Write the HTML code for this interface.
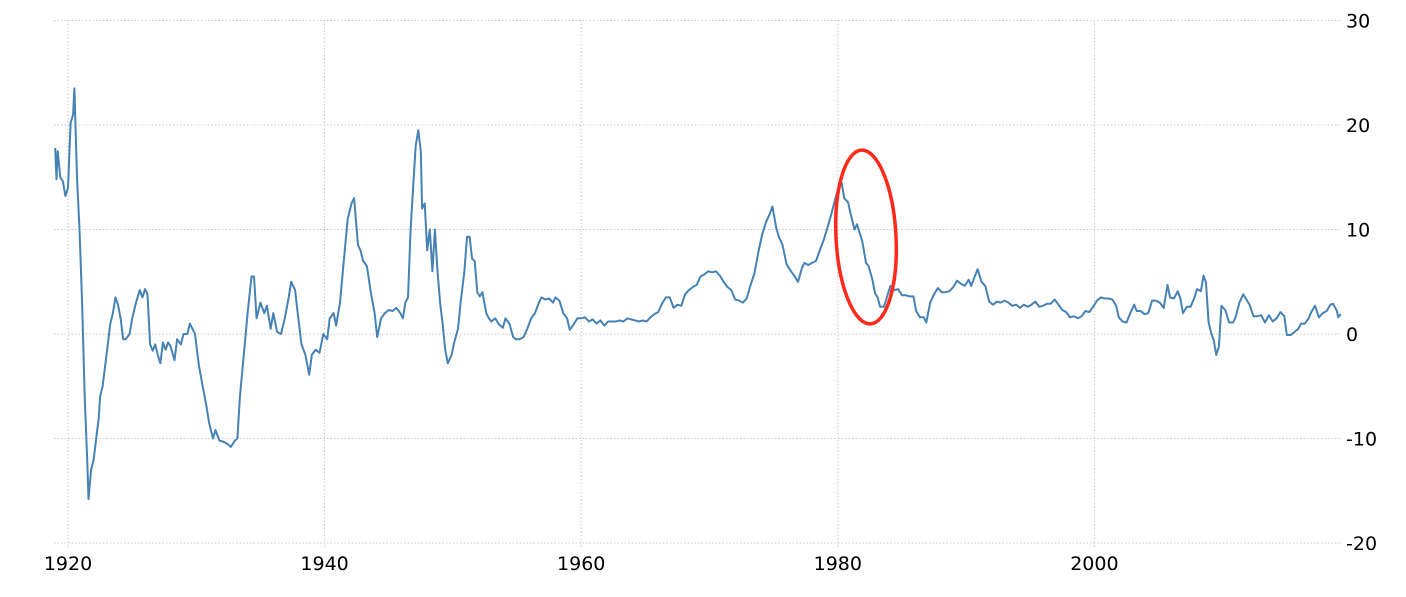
<!DOCTYPE html>
<html><head><meta charset="utf-8"><style>
html,body{margin:0;padding:0;background:#fff;}
svg text{font-family:"DejaVu Sans","Liberation Sans",sans-serif;font-size:19px;fill:#000;}
</style></head><body>
<svg id="chart" width="1406" height="592" xmlns="http://www.w3.org/2000/svg">
<g id="grid"></g>
<g id="axes"></g>
<path id="line" fill="none" stroke="#4682b4" stroke-width="2" stroke-linejoin="round"/>
<ellipse cx="866" cy="237" rx="30" ry="87" fill="none" stroke="#ff2a1a" stroke-width="3.5" transform="rotate(-3 866 237)"/>
</svg>
<script>
const years=[1919.0,1919.1,1919.2,1919.4,1919.6,1919.8,1920.0,1920.2,1920.4,1920.5,1920.7,1920.9,1921.1,1921.3,1921.5,1921.6,1921.8,1922.0,1922.2,1922.4,1922.5,1922.7,1922.9,1923.1,1923.3,1923.5,1923.7,1923.9,1924.1,1924.3,1924.5,1924.8,1925.0,1925.3,1925.6,1925.8,1926.0,1926.2,1926.4,1926.6,1926.8,1927.0,1927.2,1927.4,1927.6,1927.8,1928.0,1928.3,1928.5,1928.8,1929.0,1929.3,1929.5,1929.7,1929.9,1930.2,1930.5,1930.8,1931.0,1931.3,1931.5,1931.8,1932.1,1932.4,1932.7,1933.0,1933.2,1933.4,1933.7,1934.0,1934.3,1934.5,1934.7,1935.0,1935.3,1935.5,1935.8,1936.0,1936.3,1936.6,1936.9,1937.2,1937.4,1937.7,1937.9,1938.2,1938.5,1938.8,1939.0,1939.3,1939.6,1939.9,1940.2,1940.4,1940.7,1940.9,1941.2,1941.5,1941.8,1942.1,1942.3,1942.6,1942.8,1943.0,1943.3,1943.6,1943.9,1944.1,1944.4,1944.7,1945.0,1945.3,1945.6,1945.9,1946.1,1946.3,1946.5,1946.7,1946.9,1947.1,1947.3,1947.5,1947.6,1947.8,1948.0,1948.2,1948.4,1948.6,1948.8,1949.0,1949.2,1949.4,1949.6,1949.9,1950.1,1950.4,1950.6,1950.9,1951.1,1951.3,1951.5,1951.7,1951.9,1952.1,1952.3,1952.6,1952.8,1953.0,1953.3,1953.6,1953.9,1954.1,1954.4,1954.7,1954.9,1955.2,1955.5,1955.8,1956.1,1956.4,1956.7,1956.9,1957.2,1957.5,1957.8,1958.0,1958.3,1958.6,1958.9,1959.1,1959.4,1959.7,1960.0,1960.3,1960.6,1960.9,1961.2,1961.5,1961.8,1962.1,1962.4,1962.7,1963.0,1963.3,1963.6,1963.9,1964.2,1964.5,1964.8,1965.1,1965.4,1965.7,1966.0,1966.3,1966.6,1966.9,1967.2,1967.5,1967.8,1968.1,1968.4,1968.7,1969.0,1969.3,1969.6,1969.9,1970.2,1970.5,1970.8,1971.1,1971.4,1971.7,1972.0,1972.3,1972.6,1972.9,1973.2,1973.5,1973.8,1974.1,1974.4,1974.7,1974.9,1975.2,1975.4,1975.7,1976.0,1976.3,1976.6,1976.9,1977.2,1977.4,1977.7,1978.0,1978.3,1978.6,1978.9,1979.2,1979.5,1979.8,1980.1,1980.3,1980.5,1980.8,1981.0,1981.3,1981.5,1981.7,1981.9,1982.2,1982.4,1982.7,1982.9,1983.1,1983.3,1983.6,1983.9,1984.1,1984.4,1984.7,1985.0,1985.3,1985.6,1985.9,1986.1,1986.4,1986.7,1986.9,1987.2,1987.5,1987.8,1988.1,1988.4,1988.7,1989.0,1989.3,1989.6,1989.9,1990.2,1990.4,1990.7,1990.9,1991.2,1991.5,1991.8,1992.1,1992.4,1992.7,1993.0,1993.3,1993.6,1993.9,1994.2,1994.5,1994.8,1995.1,1995.4,1995.7,1996.0,1996.3,1996.6,1996.9,1997.2,1997.5,1997.8,1998.1,1998.4,1998.7,1999.0,1999.3,1999.6,1999.9,2000.2,2000.5,2000.8,2001.1,2001.4,2001.7,2001.9,2002.2,2002.5,2002.8,2003.1,2003.3,2003.6,2003.9,2004.2,2004.5,2004.8,2005.1,2005.4,2005.7,2005.9,2006.2,2006.5,2006.7,2006.9,2007.2,2007.5,2007.8,2008.0,2008.3,2008.5,2008.7,2008.9,2009.1,2009.3,2009.5,2009.7,2009.9,2010.2,2010.5,2010.8,2011.0,2011.3,2011.6,2011.8,2012.1,2012.4,2012.7,2013.0,2013.3,2013.6,2013.9,2014.2,2014.5,2014.8,2015.0,2015.3,2015.6,2015.9,2016.1,2016.4,2016.7,2016.9,2017.2,2017.5,2017.8,2018.1,2018.4,2018.6,2018.9,2019.0,2019.2];
const values=[17.8,14.8,17.5,15,14.6,13.2,14,20.2,21,23.5,15,10,3,-6,-12,-15.8,-13,-12,-10,-8,-6,-5,-3,-1,1,2,3.5,2.8,1.5,-0.5,-0.5,0,1.5,3,4.2,3.5,4.3,3.8,-1,-1.6,-1,-2,-2.8,-0.8,-1.5,-0.8,-1.2,-2.5,-0.5,-1,0,0,1,0.5,0,-3,-5,-7,-8.5,-10,-9.2,-10.2,-10.3,-10.5,-10.8,-10.2,-10,-6,-2,2,5.5,5.5,1.5,3,2,2.7,0.5,2,0.2,0,1.5,3.5,5,4.2,2,-1,-2,-3.9,-2,-1.5,-1.8,0,-0.5,1.5,2,0.8,3,7,11,12.5,13,8.5,8,7,6.5,4,2,-0.3,1.5,2,2.3,2.2,2.5,2,1.5,3,3.5,10,14,18,19.5,17.5,12,12.5,8,10,6,10,6,3,1,-1.5,-2.8,-2,-0.8,0.5,3,6,9.3,9.3,7.2,7,4,3.6,4,2,1.5,1.2,1.5,0.9,0.6,1.5,1,-0.3,-0.5,-0.5,-0.3,0.5,1.5,2,3,3.5,3.3,3.4,3,3.5,3.2,2,1.5,0.4,0.9,1.5,1.5,1.6,1.2,1.4,1,1.3,0.8,1.2,1.2,1.2,1.3,1.2,1.5,1.4,1.3,1.2,1.3,1.2,1.6,1.9,2.1,2.9,3.5,3.5,2.5,2.8,2.7,3.8,4.2,4.5,4.7,5.5,5.7,6.0,5.9,6,5.6,5.0,4.5,4.2,3.3,3.2,3.0,3.4,4.7,5.8,7.8,9.5,10.7,11.5,12.2,10.2,9.3,8.5,6.7,6.1,5.6,5,6.3,6.8,6.6,6.8,7,8,9,10.2,11.5,12.9,14.2,14.5,13,12.6,11.5,10,10.5,9.7,8.9,6.8,6.5,5.2,3.9,3.5,2.6,2.6,3.8,4.6,4.2,4.3,3.7,3.7,3.6,3.6,2.2,1.6,1.6,1.1,3.0,3.8,4.4,4.0,4.0,4.1,4.5,5.1,4.8,4.6,5.2,4.6,5.6,6.2,5.0,4.6,3.1,2.8,3.1,3.0,3.2,3.0,2.7,2.8,2.5,2.8,2.6,2.8,3.1,2.6,2.7,2.9,2.9,3.3,2.8,2.3,2.1,1.6,1.7,1.5,1.7,2.2,2.1,2.6,3.2,3.5,3.4,3.4,3.3,2.7,1.6,1.2,1.1,2.0,2.8,2.2,2.2,1.9,2.0,3.2,3.2,3.0,2.5,4.7,3.5,3.4,4.1,3.4,2.0,2.6,2.6,3.5,4.3,4.1,5.6,4.9,1.1,0.1,-0.6,-2.0,-1.2,2.7,2.3,1.1,1.1,1.6,3.0,3.8,3.4,2.8,1.7,1.7,1.8,1.1,1.8,1.2,1.5,2.1,1.7,-0.1,-0.1,0.2,0.5,1.0,1.0,1.5,2.1,2.7,1.6,2.0,2.2,2.8,2.9,2.2,1.6,1.9];
const yTicks=[30,20,10,0,-10,-20];
const xTicks=[1920,1940,1960,1980,2000];
const X=y=>68+(y-1920)*12.83;
const Y=v=>334-v*10.45;
const NS='http://www.w3.org/2000/svg';
const grid=document.getElementById('grid'), axes=document.getElementById('axes');
yTicks.forEach(t=>{
  const l=document.createElementNS(NS,'line');
  
  
  l.setAttribute('x1',54);l.setAttribute('x2',1340);l.setAttribute('y1',Y(t));l.setAttribute('y2',Y(t));
  l.setAttribute('stroke','#c8c8c8');l.setAttribute('stroke-dasharray','1.5,2');
  grid.appendChild(l);
  const tx=document.createElementNS(NS,'text');
  
  
  tx.setAttribute('x',1346);tx.setAttribute('y',Y(t)+7);tx.textContent=t;
  axes.appendChild(tx);
});
xTicks.forEach(t=>{
  const l=document.createElementNS(NS,'line');
  
  
  l.setAttribute('x1',X(t));l.setAttribute('x2',X(t));l.setAttribute('y1',20);l.setAttribute('y2',548);
  l.setAttribute('stroke','#c8c8c8');l.setAttribute('stroke-dasharray','1.5,2');
  grid.appendChild(l);
  const tx=document.createElementNS(NS,'text');
  
  
  tx.setAttribute('x',X(t));tx.setAttribute('y',570);tx.setAttribute('text-anchor','middle');tx.textContent=t;
  axes.appendChild(tx);
});
let d='';
years.forEach((yr,i)=>{d+=(i?'L':'M')+X(yr).toFixed(1)+','+Y(values[i]).toFixed(1);});
document.getElementById('line').setAttribute('d',d);
</script>
</body></html>
